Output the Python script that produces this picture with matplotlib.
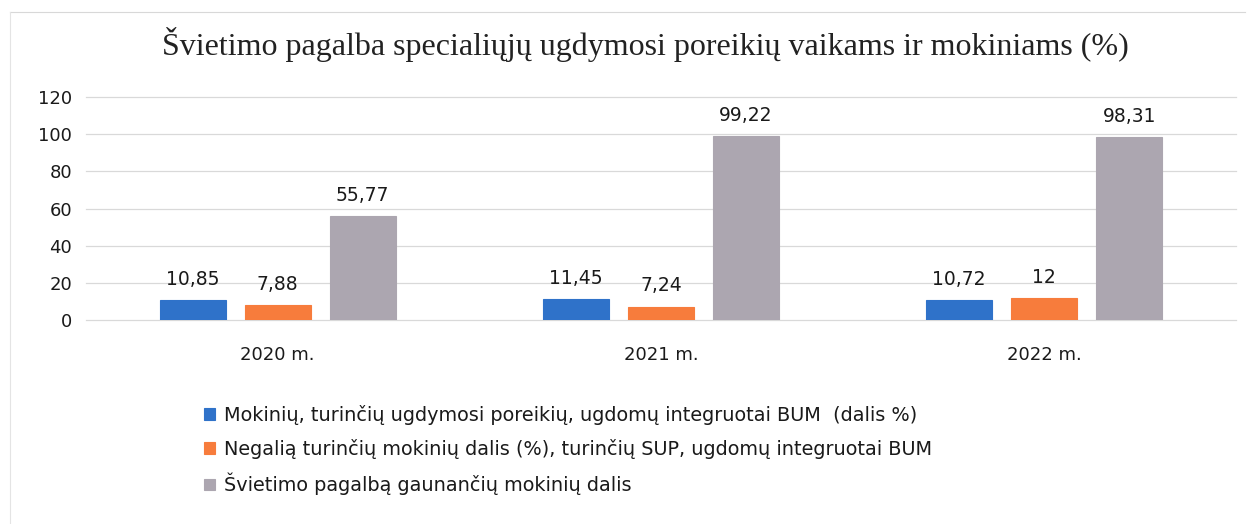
import matplotlib
matplotlib.use('Agg')
import matplotlib.pyplot as plt
import numpy as np
from matplotlib.lines import Line2D

years = ["2020 m.", "2021 m.", "2022 m."]
integrated = [10.85, 11.45, 10.72]
disabled = [7.88, 7.24, 12]
support = [55.77, 99.22, 98.31]
series_names = [
    "Mokinių, turinčių ugdymosi poreikių, ugdomų integruotai BUM  (dalis %)",
    "Negalią turinčių mokinių dalis (%), turinčių SUP, ugdomų integruotai BUM",
    "Švietimo pagalbą gaunančių mokinių dalis",
]
colors = ["#2f72c9", "#f77c3c", "#aca6b0"]
title = "Švietimo pagalba specialiųjų ugdymosi poreikių vaikams ir mokiniams (%)"

plt.rcParams['font.family'] = ['DejaVu Sans']

fig = plt.figure(figsize=(12.57, 5.24), dpi=100)
ax = fig.add_axes([86 / 1257, 1 - 320 / 524, 1150 / 1257, 223 / 524])

x = np.arange(len(years))
width = 0.172
step = 0.222
for i, (vals, name, col) in enumerate(zip([integrated, disabled, support], series_names, colors)):
    bars = ax.bar(x + (i - 1) * step, vals, width, color=col, label=name,
                  edgecolor=col, linewidth=0.8)
    labels = [f"{v:g}".replace(".", ",") for v in vals]
    ax.bar_label(bars, labels=labels, padding=8, fontsize=13.5, color="#1a1a1a")

ax.set_xlim(-0.5, 2.5)
ax.set_ylim(0, 120)
ax.set_yticks(range(0, 121, 20))
ax.set_xticks(x)
ax.set_xticklabels(years)
ax.tick_params(axis='x', length=0, pad=19, labelsize=13, labelcolor="#1a1a1a")
ax.tick_params(axis='y', length=0, pad=10, labelsize=13, labelcolor="#1a1a1a")
ax.grid(axis='y', color="#d9d9d9", linewidth=0.9, clip_on=False)
ax.set_axisbelow(True)
for s in ax.spines.values():
    s.set_visible(False)

fig.text(645 / 1257, 1 - 45 / 524, title, ha='center', va='center',
         fontsize=23, family=['Liberation Serif'], color="#222222")

# faint frame of the original chart object
fig.add_artist(Line2D([10 / 1257, 1245 / 1257], [1 - 12 / 524, 1 - 12 / 524],
                      color="#d8d8d8", linewidth=0.8))
fig.add_artist(Line2D([10 / 1257, 10 / 1257], [1 - 12 / 524, 0],
                      color="#e4e4e4", linewidth=0.8))

fig.legend(loc='upper left', bbox_to_anchor=(204 / 1257, 1 - 405 / 524),
           frameon=False, fontsize=13.9, handlelength=0.56, handleheight=0.56,
           handletextpad=0.5, labelspacing=0.72, borderaxespad=0, borderpad=0,
           labelcolor="#1a1a1a")

fig.savefig("out.png", dpi=100, facecolor="white")
